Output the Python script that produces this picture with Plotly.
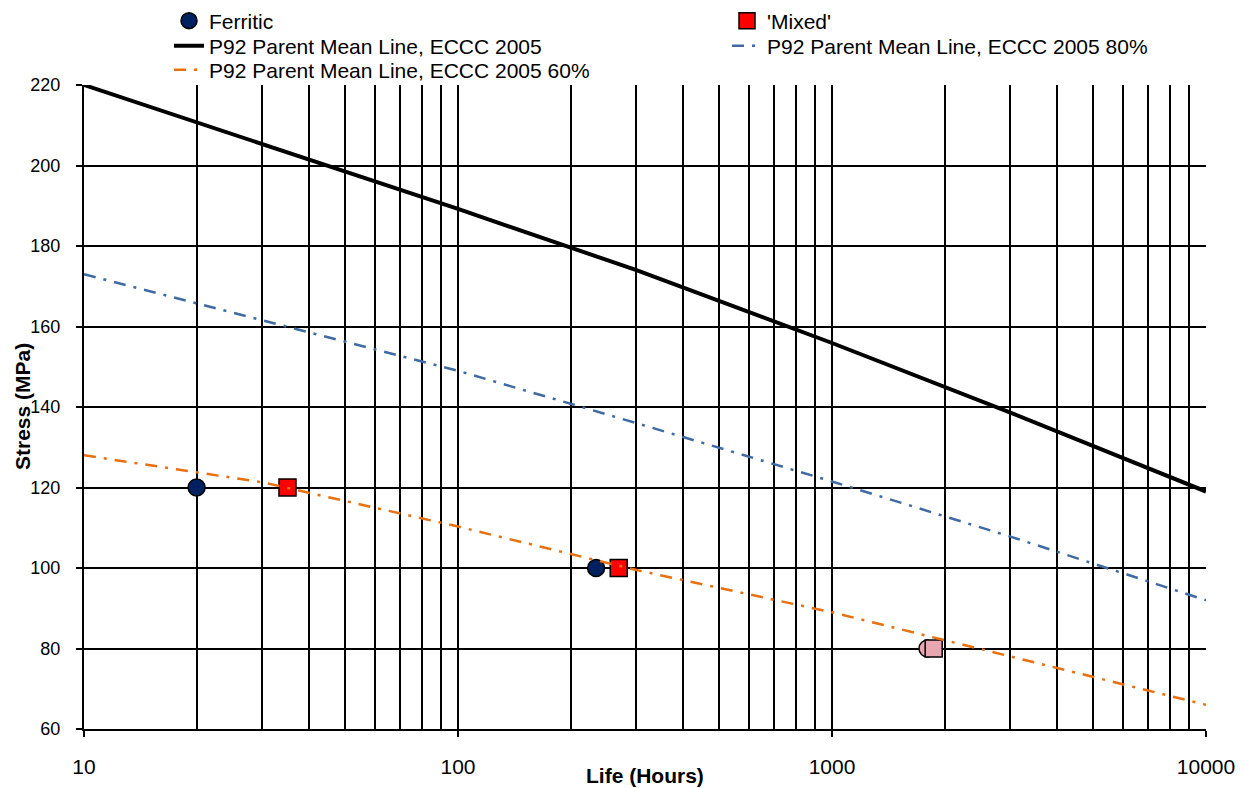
import plotly.graph_objects as go

# ---- data ----
ferritic_life = [20, 234, 1800]
ferritic_stress = [120, 100, 80]
ferritic_colors = ["#002060", "#002060", "#E8A6B0"]

mixed_life = [35, 269, 1870]
mixed_stress = [120, 100, 80]
mixed_colors = ["#FF0000", "#FF0000", "#E8A6B0"]

line_life = [10, 30, 100, 300, 1000, 3000, 10000]
mean_stress = [220, 205.4, 189.2, 174, 155.9, 138.6, 119]
pct80_stress = [173, 161.6, 149, 136, 121.5, 107.8, 92]
pct60_stress = [128, 121.3, 110.3, 99.5, 89, 78, 66]

y_ticks = [60, 80, 100, 120, 140, 160, 180, 200, 220]
x_ticks = [10, 100, 1000, 10000]

FONT = "Liberation Sans, Arial, sans-serif"
PLOT_L, PLOT_R, PLOT_T, PLOT_B = 84, 1206, 85, 729
PW, PH = PLOT_R - PLOT_L, PLOT_B - PLOT_T

fig = go.Figure()

fig.add_trace(go.Scatter(
    x=ferritic_life, y=ferritic_stress, mode="markers", name="Ferritic",
    marker=dict(symbol="circle", size=17, color=ferritic_colors,
                line=dict(color="black", width=1.5)), legend="legend"))
fig.add_trace(go.Scatter(
    x=mixed_life, y=mixed_stress, mode="markers", name="'Mixed'",
    marker=dict(symbol="square", size=17, color=mixed_colors,
                line=dict(color="black", width=1.5)), legend="legend2"))
fig.add_trace(go.Scatter(
    x=line_life, y=mean_stress, mode="lines",
    name="P92 Parent Mean Line, ECCC 2005",
    line=dict(color="black", width=4), legend="legend3"))
fig.add_trace(go.Scatter(
    x=line_life, y=pct80_stress, mode="lines",
    name="P92 Parent Mean Line, ECCC 2005 80%",
    line=dict(color="#3F6AA2", width=2.5, dash="12px,8px,3px,8px"), legend="legend4"))
fig.add_trace(go.Scatter(
    x=line_life, y=pct60_stress, mode="lines",
    name="P92 Parent Mean Line, ECCC 2005 60%",
    line=dict(color="#E8700F", width=2.5, dash="12px,8px,3px,8px"), legend="legend5"))

axis_common = dict(
    showline=True, linecolor="black", linewidth=2,
    showgrid=True, gridcolor="black", gridwidth=1.6,
    ticks="outside", tickcolor="black", ticklen=6, tickwidth=1.5,
    zeroline=False, mirror=False,
)

fig.update_xaxes(
    type="log", range=[1, 4], tickvals=x_ticks, ticktext=[str(v) for v in x_ticks],
    minor=dict(showgrid=True, gridcolor="black", gridwidth=1.6, dtick="D1", ticks=""),
    tickfont=dict(family=FONT, size=21, color="black"),
    ticklabelstandoff=12,
    **axis_common)
fig.update_yaxes(
    range=[60, 220], tickvals=y_ticks,
    tickfont=dict(family=FONT, size=18, color="black"),
    ticklabelstandoff=12,
    **axis_common)


def legend_at(px_x, px_y):
    return dict(
        orientation="v", bgcolor="rgba(0,0,0,0)", borderwidth=0,
        font=dict(family=FONT, size=21, color="black"),
        x=(px_x - PLOT_L) / PW, y=1 + (PLOT_T - px_y) / PH,
        xanchor="left", yanchor="middle", valign="middle",
    )


fig.update_layout(
    width=1242, height=788,
    margin=dict(l=PLOT_L, r=1242 - PLOT_R, t=PLOT_T, b=788 - PLOT_B, autoexpand=False),
    paper_bgcolor="white", plot_bgcolor="white",
    font=dict(family=FONT, size=21, color="black"),
    showlegend=True,
    legend=legend_at(169, 21),
    legend2=legend_at(727, 21),
    legend3=legend_at(169, 46),
    legend4=legend_at(727, 46),
    legend5=legend_at(169, 70),
    annotations=[
        dict(text="<b>Life (Hours)</b>", x=0.5, y=-(775 - PLOT_B) / PH, xref="paper", yref="paper",
             showarrow=False, font=dict(family=FONT, size=21, color="black"),
             xanchor="center", yanchor="middle"),
        dict(text="<b>Stress (MPa)</b>", x=-(PLOT_L - 22) / PW, y=0.5, xref="paper", yref="paper",
             showarrow=False, textangle=-90, font=dict(family=FONT, size=21, color="black"),
             xanchor="center", yanchor="middle"),
    ],
)

fig.write_html("out.html")
